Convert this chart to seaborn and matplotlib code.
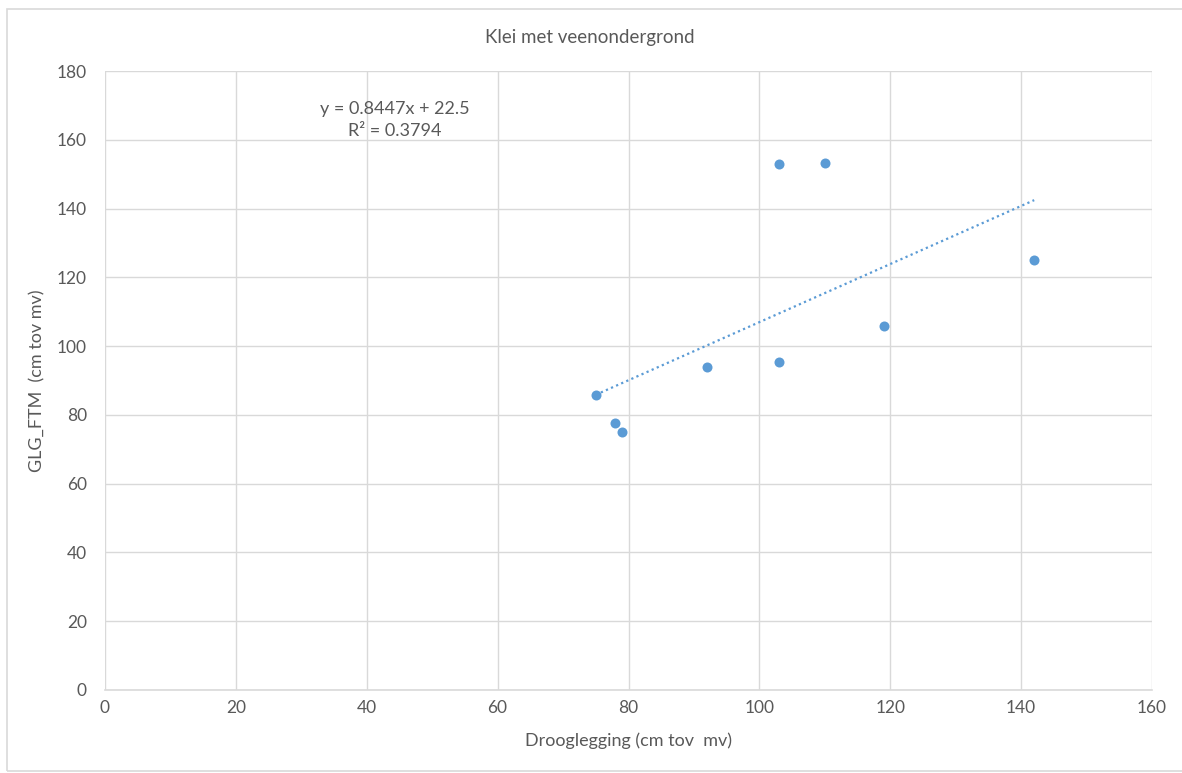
import numpy as np
import matplotlib
matplotlib.use("Agg")
import matplotlib.pyplot as plt
import seaborn as sns
from matplotlib.patches import Rectangle

# Data
drooglegging = [75, 78, 79, 92, 103, 103, 110, 119, 142]
glg_ftm = [85.8, 77.7, 75.0, 94.0, 95.3, 153.0, 153.2, 105.8, 124.9]

# Trendline as printed on the chart
slope = 0.8447
intercept = 22.5
r_squared = 0.3794

x_ticks = [0, 20, 40, 60, 80, 100, 120, 140, 160]
y_ticks = [0, 20, 40, 60, 80, 100, 120, 140, 160, 180]

sns.set_style("white")
plt.rcParams['font.family'] = ['Lato', 'DejaVu Sans']

text_grey = "#595959"
grid_grey = "#d9d9d9"
blue = "#5B9BD5"

fig = plt.figure(figsize=(11.82, 7.73), dpi=100)
ax = fig.add_axes([105 / 1182, 1 - 690 / 773, (1152 - 105) / 1182, (690 - 71) / 773])

# outer chart border
fig.patches.append(Rectangle((7 / 1182, 2 / 773), 1.0, 1 - 2 / 773 - 9 / 773,
                             transform=fig.transFigure, fill=False,
                             edgecolor=grid_grey, linewidth=1.2))

sns.scatterplot(x=drooglegging, y=glg_ftm, ax=ax, color=blue, s=52,
                edgecolor=blue, linewidth=0, zorder=3)

x_fit = np.array([min(drooglegging), max(drooglegging)])
sns.lineplot(x=x_fit, y=slope * x_fit + intercept, ax=ax, color=blue,
             linestyle=(0, (1, 1.5)), linewidth=1.6, zorder=2)

ax.set_xlim(0, 160)
ax.set_ylim(0, 180)
ax.set_xticks(x_ticks)
ax.set_yticks(y_ticks)
ax.grid(True, color=grid_grey, linewidth=1.0)
ax.set_axisbelow(True)
for side in ["top", "right", "left"]:
    ax.spines[side].set_visible(False)
ax.spines["bottom"].set_color(grid_grey)
ax.spines["bottom"].set_linewidth(1.2)

ax.tick_params(axis="both", length=0, labelsize=12.5, labelcolor=text_grey)
ax.tick_params(axis="y", pad=13)
ax.tick_params(axis="x", pad=7)

ax.set_xlabel("Drooglegging (cm tov  mv)", fontsize=13, color=text_grey, labelpad=12)
ax.set_ylabel("GLG_FTM  (cm tov mv)", fontsize=13, color=text_grey, labelpad=8)
fig.text(590 / 1182, 1 - 38 / 773, "Klei met veenondergrond", ha="center", va="center",
         fontsize=13.5, color=text_grey)

ax.text(44.3, 165.8, f"y = {slope}x + {intercept}\nR² = {r_squared}", ha="center", va="center",
        fontsize=13, color=text_grey, linespacing=1.45)

fig.savefig("out.png", dpi=100, facecolor="white")
